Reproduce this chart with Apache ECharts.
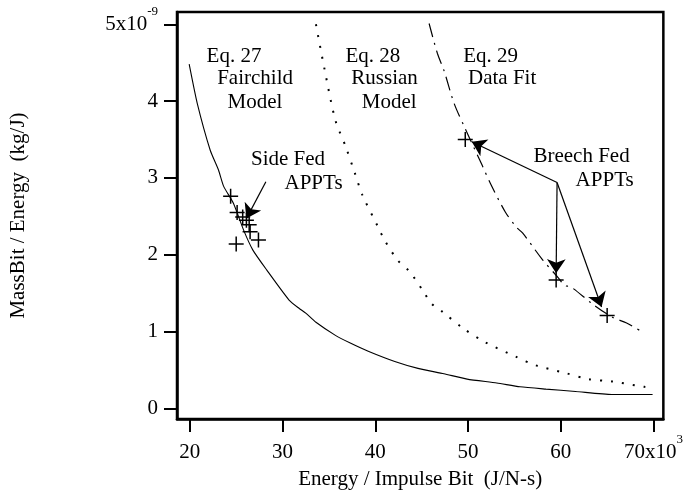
<!DOCTYPE html>
<html>
<head>
<meta charset="utf-8">
<script src="https://cdn.jsdelivr.net/npm/echarts@6/dist/echarts.min.js"></script>
<style>
  html, body { margin: 0; padding: 0; background: #fff; }
  #chart { width: 686px; height: 497px; }
</style>
</head>
<body>
<div id="chart"></div>
<script>
  // x: Energy / Impulse Bit (x10^3 J/N-s), y: MassBit / Energy (x10^-9 kg/J)
  var xTicks = [20, 30, 40, 50, 60, 70]
  var yTicks = [0, 1, 2, 3, 4, 5]

  var eq27 = [[19.93, 4.48], [20.8, 3.97], [22.2, 3.36], [23.1, 3.10], [23.65, 2.89], [24.7, 2.67],
    [25.8, 2.32], [26.8, 2.06], [28.3, 1.80], [30.7, 1.41], [31.8, 1.30], [32.5, 1.24], [33.6, 1.12],
    [35.7, 0.95], [37.3, 0.85], [39.3, 0.74], [42.1, 0.61], [44.6, 0.52], [47.4, 0.45],
    [49.9, 0.38], [53.1, 0.33], [55.6, 0.28], [58.4, 0.25], [61.6, 0.22], [65.5, 0.18], [69.9, 0.18]]

  var eq28 = [[33.6, 5.0], [34.5, 4.43], [35.7, 3.75], [36.8, 3.41], [37.8, 3.06], [38.6, 2.78],
    [40.3, 2.36], [41.0, 2.19], [42.4, 1.93], [43.7, 1.78], [45.3, 1.50], [46.0, 1.37], [47.2, 1.26],
    [49.5, 1.04], [51.7, 0.87], [55.2, 0.67], [57.3, 0.56], [60.5, 0.46], [63.0, 0.38], [65.5, 0.35],
    [69.0, 0.28], [69.9, 0.27]]

  var eq29 = [[45.8, 5.01], [46.7, 4.62], [47.4, 4.40], [48.5, 3.97], [49.7, 3.64], [51.5, 3.17],
    [52.4, 2.93], [54.0, 2.56], [55.2, 2.36], [55.9, 2.28], [58.0, 1.94], [59.8, 1.69], [60.4, 1.60],
    [61.1, 1.58], [63.4, 1.36], [65.5, 1.19], [67.1, 1.11], [69.0, 0.98]]

  var sideFed = [[24.4, 2.76], [25.1, 2.55], [25.7, 2.49], [26.1, 2.45], [26.4, 2.39], [26.5, 2.30],
    [27.4, 2.19], [25.0, 2.14]]
  var breechFed = [[49.7, 3.50], [59.5, 1.67], [65.0, 1.21]]

  var arrows = [
    [[28.2, 2.95], [26.1, 2.47]],
    [[59.6, 2.94], [50.4, 3.47]],
    [[59.6, 2.94], [59.5, 1.76]],
    [[59.6, 2.94], [64.4, 1.32]]
  ]

  var notes = [
    ['Eq. 27', 21.81, 4.587], ['Fairchild', 22.95, 4.288], ['Model', 24.07, 3.988],
    ['Eq. 28', 36.78, 4.587], ['Russian', 37.41, 4.288], ['Model', 38.54, 3.988],
    ['Eq. 29', 49.47, 4.587], ['Data Fit', 50.0, 4.288],
    ['Side Fed', 26.6, 3.246], ['APPTs', 30.21, 2.921],
    ['Breech Fed', 57.05, 3.285], ['APPTs', 61.6, 2.96]
  ]

  var font = 'Liberation Serif'
  var plus = 'path://M-1,-10 L1,-10 L1,-1 L10,-1 L10,1 L1,1 L1,10 L-1,10 L-1,1 L-10,1 L-10,-1 L-1,-1 Z'

  // big digits + raised small exponent
  var tickRich = {
    m: { fontSize: 21, lineHeight: 39, fontFamily: font, color: '#000' },
    s: { fontSize: 13, lineHeight: 13, fontFamily: font, color: '#000', padding: [0, 0, 26, 0] },
  }

  var chart = echarts.init(document.getElementById('chart'))

  chart.setOption({
    animation: false,
    textStyle: { fontFamily: font, color: '#000' },
    grid: {
      left: 176,
      right: 17,
      top: 12,
      bottom: 78,
      show: true,
      borderColor: '#000',
      borderWidth: 2.5,
    },
    xAxis: {
      type: 'value',
      min: 18.617,
      max: 71.06,
      name: 'Energy / Impulse Bit  (J/N-s)',
      nameLocation: 'middle',
      nameGap: 50,
      nameMoveOverlap: false,
      nameTextStyle: { fontSize: 21, fontFamily: font, color: '#000', verticalAlign: 'top' },
      splitLine: { show: false },
      axisLine: { onZero: false, lineStyle: { color: '#000', width: 2.5 } },
      axisTick: { length: 13, customValues: xTicks, lineStyle: { color: '#000', width: 2 } },
      axisLabel: {
        customValues: xTicks,
        margin: 14,
        formatter: function (v) {
          return v === 70 ? '{m|70x10}{s|3}' : '{m|' + v + '}'
        },
        rich: tickRich,
      },
    },
    yAxis: {
      type: 'value',
      min: -0.139,
      max: 5.16,
      name: 'MassBit / Energy  (kg/J)',
      nameLocation: 'middle',
      nameGap: 148,
      nameMoveOverlap: false,
      nameTextStyle: { fontSize: 21, fontFamily: font, color: '#000' },
      splitLine: { show: false },
      axisLine: { onZero: false, lineStyle: { color: '#000', width: 2.5 } },
      axisTick: { length: 13, customValues: yTicks, lineStyle: { color: '#000', width: 2 } },
      axisLabel: {
        customValues: yTicks,
        margin: 19,
        formatter: function (v) {
          return v === 5 ? '{m|5x10}{s|-9}' : '{m|' + v + '}'
        },
        rich: tickRich,
      },
    },
    series: [
      {
        type: 'line',
        data: eq27,
        symbol: 'none',
        smooth: 0.2,
        lineStyle: { color: '#000', width: 1.1 },
      },
      {
        type: 'line',
        data: eq28,
        symbol: 'none',
        smooth: 0.3,
        lineStyle: { color: '#000', width: 2, type: [2, 9] },
      },
      {
        type: 'line',
        data: eq29,
        symbol: 'none',
        smooth: 0.3,
        lineStyle: { color: '#000', width: 1.2, type: [14, 6, 2, 6] },
      },
      {
        type: 'scatter',
        data: sideFed.concat(breechFed),
        symbol: plus,
        symbolSize: 15,
        itemStyle: { color: '#000', opacity: 1 },
      },
      {
        type: 'lines',
        coordinateSystem: 'cartesian2d',
        data: arrows.map(function (a) { return { coords: a } }),
        symbol: ['none', 'arrow'],
        symbolSize: [8, 14],
        lineStyle: { color: '#000', width: 1.2, opacity: 1 },
      },
      {
        type: 'scatter',
        symbolSize: 0,
        itemStyle: { opacity: 1 },
        data: notes.map(function (n) { return { name: n[0], value: [n[1], n[2]] } }),
        label: {
          show: true,
          position: 'right',
          distance: 0,
          formatter: '{b}',
          fontSize: 21,
          fontFamily: font,
          color: '#000',
        },
      },
    ],
  })
</script>
</body>
</html>
